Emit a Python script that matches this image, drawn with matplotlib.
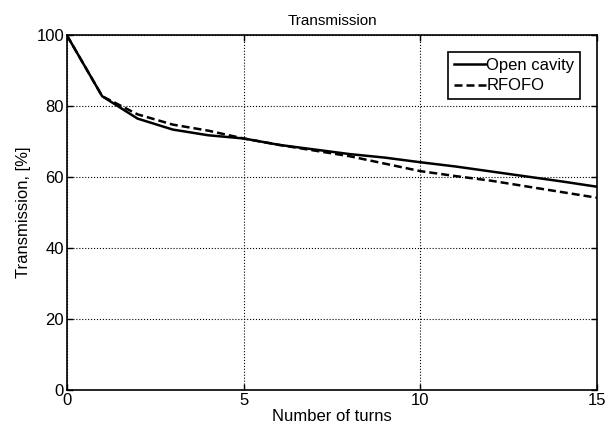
import numpy as np
import matplotlib
matplotlib.use('Agg')
import matplotlib.pyplot as plt

plt.rcParams['font.family'] = ['Liberation Sans', 'DejaVu Sans']

# Transmission vs number of turns
turns = [0, 1, 2, 3, 4, 5, 6, 7, 8, 9, 10, 11, 12, 13, 14, 15]
open_cavity = [100, 82.8, 76.5, 73.4, 71.8, 70.9, 69.1, 67.8, 66.5, 65.5,
               64.2, 63.0, 61.6, 60.2, 58.8, 57.3]
rfofo = [100, 82.8, 77.7, 74.8, 73.1, 70.9, 69.1, 67.5, 65.9, 63.8,
         61.7, 60.3, 59.0, 57.4, 55.8, 54.2]

fig = plt.figure(figsize=(6.13, 4.34), dpi=100)
ax = fig.add_axes([0.109, 0.101, 0.865, 0.818])

ax.plot(turns, open_cavity, 'k-', lw=1.8, label='Open cavity')
ax.plot(turns, rfofo, 'k--', lw=1.8, dashes=(3.2, 1.6), label='RFOFO')

ax.set_xlim(0, 15)
ax.set_ylim(0, 100)
ax.set_xticks([0, 5, 10, 15])
ax.set_yticks([0, 20, 40, 60, 80, 100])
ax.grid(True, color='k', linestyle=':', linewidth=0.8)
ax.tick_params(direction='in', length=4, width=1, labelsize=12,
               top=True, right=True, pad=2)
for s in ax.spines.values():
    s.set_linewidth(1.2)

ax.set_title('Transmission', fontsize=11, pad=7)
ax.set_xlabel('Number of turns', fontsize=12, labelpad=1)
ax.set_ylabel('Transmission, [%]', fontsize=12, labelpad=4)

leg = ax.legend(loc='upper right', fontsize=12, fancybox=False,
                edgecolor='k', framealpha=1, handlelength=1.9,
                handletextpad=0.05, borderpad=0.35, labelspacing=0.35,
                borderaxespad=1.0)
leg.get_frame().set_linewidth(1.2)

fig.savefig('out.png', dpi=100)
